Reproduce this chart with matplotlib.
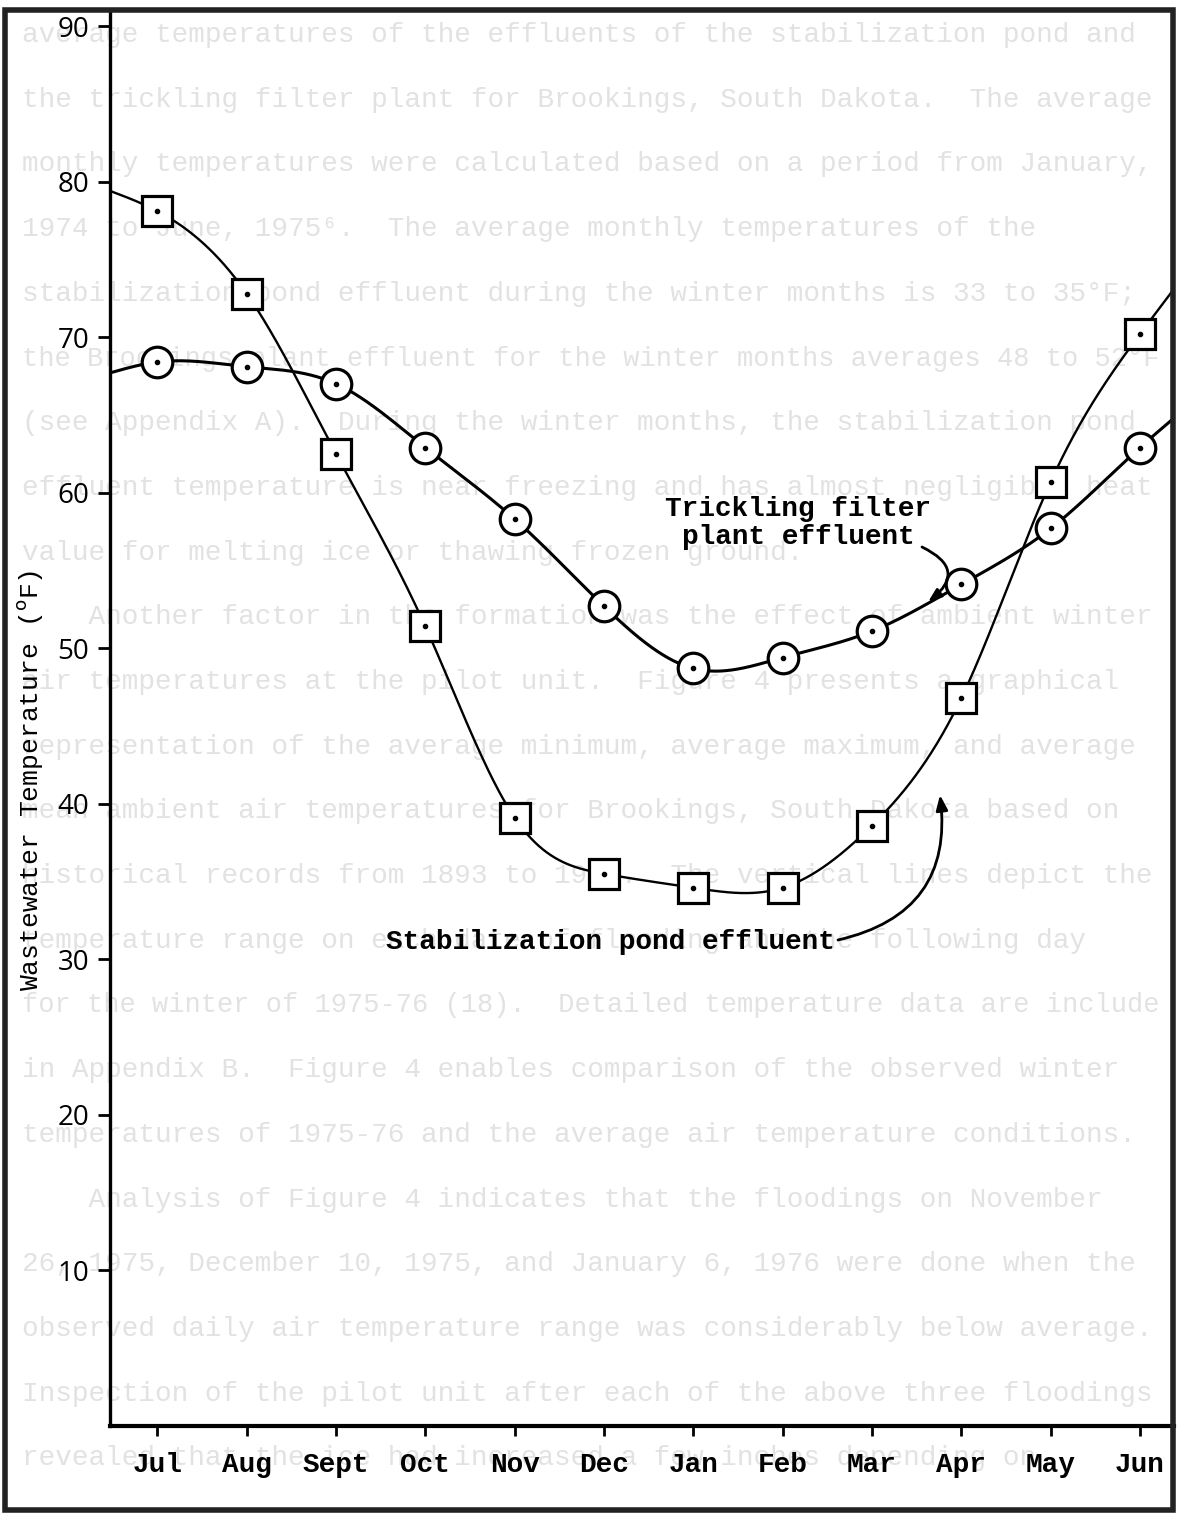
import numpy as np
import matplotlib
matplotlib.use("Agg")
import matplotlib.pyplot as plt
from matplotlib.patches import Rectangle

# ---------------- data ----------------
months = ["Jul", "Aug", "Sept", "Oct", "Nov", "Dec", "Jan", "Feb", "Mar", "Apr", "May", "Jun"]
pond_temp = [78.1, 72.8, 62.5, 51.4, 39.1, 35.5, 34.6, 34.6, 38.6, 46.8, 60.7, 70.2]
filter_temp = [68.4, 68.1, 67.0, 62.9, 58.3, 52.7, 48.7, 49.4, 51.1, 54.1, 57.7, 62.9]
# where the hand-drawn curves leave the plot at the left / right edges
pond_edge = [79.4, 73.1]
filter_edge = [67.7, 64.8]
y_ticks = [10, 20, 30, 40, 50, 60, 70, 80, 90]

# faint bleed-through text of the scanned page
page_lines = [
    "average temperatures of the effluents of the stabilization pond and",
    "the trickling filter plant for Brookings, South Dakota.  The average",
    "monthly temperatures were calculated based on a period from January,",
    "1974 to June, 1975\u2076.  The average monthly temperatures of the",
    "stabilization pond effluent during the winter months is 33 to 35\u00b0F;",
    "the Brookings plant effluent for the winter months averages 48 to 52\u00b0F",
    "(see Appendix A).  During the winter months, the stabilization pond",
    "effluent temperature is near freezing and has almost negligible heat",
    "value for melting ice or thawing frozen ground.",
    "    Another factor in the formation was the effect of ambient winter",
    "air temperatures at the pilot unit.  Figure 4 presents a graphical",
    "representation of the average minimum, average maximum, and average",
    "mean ambient air temperatures for Brookings, South Dakota based on",
    "historical records from 1893 to 1975.  The vertical lines depict the",
    "temperature range on each date of flooding and the following day",
    "for the winter of 1975-76 (18).  Detailed temperature data are include",
    "in Appendix B.  Figure 4 enables comparison of the observed winter",
    "temperatures of 1975-76 and the average air temperature conditions.",
    "    Analysis of Figure 4 indicates that the floodings on November",
    "26, 1975, December 10, 1975, and January 6, 1976 were done when the",
    "observed daily air temperature range was considerably below average.",
    "Inspection of the pilot unit after each of the above three floodings",
    "revealed that the ice had increased a few inches depending on",
]


def natural_spline(xk, yk, xs):
    xk = np.asarray(xk, float)
    yk = np.asarray(yk, float)
    n = len(xk)
    h = np.diff(xk)
    A = np.zeros((n, n))
    r = np.zeros(n)
    A[0, 0] = A[-1, -1] = 1.0
    for i in range(1, n - 1):
        A[i, i - 1] = h[i - 1]
        A[i, i] = 2 * (h[i - 1] + h[i])
        A[i, i + 1] = h[i]
        r[i] = 6 * ((yk[i + 1] - yk[i]) / h[i] - (yk[i] - yk[i - 1]) / h[i - 1])
    M = np.linalg.solve(A, r)
    idx = np.clip(np.searchsorted(xk, xs) - 1, 0, n - 2)
    x0, x1 = xk[idx], xk[idx + 1]
    hh = x1 - x0
    return (M[idx] * (x1 - xs) ** 3 / (6 * hh) + M[idx + 1] * (xs - x0) ** 3 / (6 * hh)
            + (yk[idx] - M[idx] * hh ** 2 / 6) * (x1 - xs) / hh
            + (yk[idx + 1] - M[idx + 1] * hh ** 2 / 6) * (xs - x0) / hh)


W, H = 1177, 1518
fig = plt.figure(figsize=(W / 100, H / 100), dpi=100)
fig.patch.set_facecolor("white")

mono = ["Liberation Mono", "DejaVu Sans Mono"]

# page text in the background (very faint, as in the scan)
for i, line in enumerate(page_lines):
    yy = 35 + 64.7 * i
    fs = 20 if len(line) <= 68 else 20 * 68 / len(line)
    fig.text(22 / W, 1 - yy / H, line, family=mono, fontsize=fs, color="#e2e2e2",
             va="center", ha="left", zorder=-5)

# axes geometry in pixels
left_px, right_px, top_px, bottom_px = 110, 1174, 12, 1426
ax = fig.add_axes([left_px / W, 1 - bottom_px / H, (right_px - left_px) / W, (bottom_px - top_px) / H])
ax.patch.set_alpha(0)

x = np.arange(len(months))
xl, xr = -0.53, 11.38
ax.set_xlim(xl, xr)
ax.set_ylim(0, 90.9)

xs = np.linspace(xl, xr, 800)
pond_curve = natural_spline(np.r_[xl, x, xr], np.r_[pond_edge[0], pond_temp, pond_edge[1]], xs)
filter_curve = natural_spline(np.r_[xl, x, xr], np.r_[filter_edge[0], filter_temp, filter_edge[1]], xs)

ax.plot(xs, pond_curve, color="black", lw=1.7, zorder=2, solid_capstyle="round")
ax.plot(xs, filter_curve, color="black", lw=2.2, zorder=2, solid_capstyle="round")

ax.plot(x, pond_temp, ls="none", marker="s", ms=21, mfc="white", mec="black", mew=2.3, zorder=3)
ax.plot(x, filter_temp, ls="none", marker="o", ms=22, mfc="white", mec="black", mew=2.3, zorder=3)
ax.plot(x, pond_temp, ls="none", marker="o", ms=3, color="black", zorder=4)
ax.plot(x, filter_temp, ls="none", marker="o", ms=3, color="black", zorder=4)

# spines / ticks
for s in ["top", "right"]:
    ax.spines[s].set_visible(False)
ax.spines["left"].set_linewidth(2.4)
ax.spines["bottom"].set_linewidth(3.0)
ax.set_xticks(x)
ax.set_xticklabels(months, family=mono, fontweight="bold", fontsize=20)
ax.set_yticks(y_ticks)
ax.set_yticklabels([str(v) for v in y_ticks], family="Open Sans", fontsize=20)
ax.tick_params(axis="x", direction="out", length=7, width=2, pad=12)
ax.tick_params(axis="y", direction="out", length=9, width=2, pad=6)

fig.text(30 / W, 1 - 780 / H, "Wastewater Temperature ($^{\\rm o}$F)", family=mono,
         fontsize=19, rotation=90, ha="center", va="center")

# annotations
def px2data(px, py):
    return ax.transData.inverted().transform(
        fig.transFigure.transform((px / W, 1 - py / H)))

ax.text(*px2data(798, 523), "Trickling filter\nplant effluent", family=mono, fontweight="bold",
        fontsize=20, ha="center", va="center", linespacing=1.1, zorder=5)
ax.annotate("", xy=px2data(928, 602), xytext=px2data(922, 547),
            arrowprops=dict(arrowstyle="-|>,head_length=0.8,head_width=0.3", color="black", lw=2,
                            connectionstyle="arc3,rad=-0.8", shrinkA=0, shrinkB=0), zorder=5)

ax.text(*px2data(610, 942), "Stabilization pond effluent", family=mono, fontweight="bold",
        fontsize=20, ha="center", va="center", zorder=5)
ax.annotate("", xy=px2data(940, 795), xytext=px2data(838, 940),
            arrowprops=dict(arrowstyle="-|>,head_length=0.9,head_width=0.35", color="black", lw=2,
                            connectionstyle="arc3,rad=0.45", shrinkA=0, shrinkB=0), zorder=5)

# scan frame
fig.add_artist(Rectangle((5 / W, 1 - 1510 / H), 1168 / W, 1500 / H, transform=fig.transFigure,
                         fill=False, lw=4, edgecolor="#222222", zorder=10))

fig.savefig("out.png", dpi=100, facecolor="white")
